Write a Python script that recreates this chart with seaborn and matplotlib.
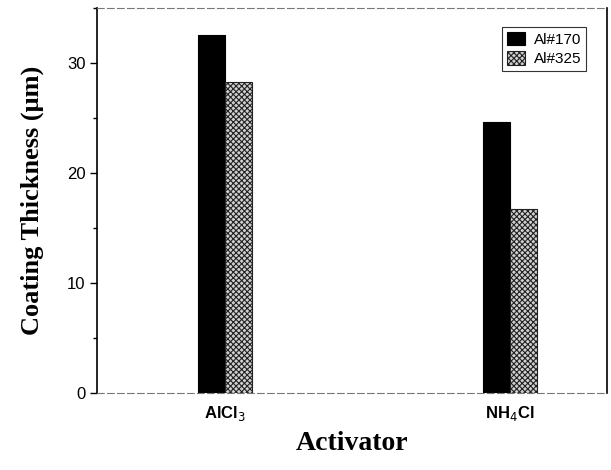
import matplotlib
matplotlib.use("Agg")
import matplotlib.pyplot as plt
import seaborn as sns
import pandas as pd
from matplotlib.ticker import MultipleLocator

activators = ["AlCl$_3$", "NH$_4$Cl"]
series = ["Al#170", "Al#325"]
al170 = [32.5, 24.6]
al325 = [28.3, 16.7]

df = pd.DataFrame({
    "Activator": activators * 2,
    "Series": [series[0]] * 2 + [series[1]] * 2,
    "Thickness": al170 + al325,
})

sns.set_theme(style="white")
plt.rcParams['font.family'] = ['Liberation Sans', 'DejaVu Sans']
plt.rcParams['text.color'] = 'black'
plt.rcParams['axes.labelcolor'] = 'black'
plt.rcParams['xtick.color'] = 'black'
plt.rcParams['ytick.color'] = 'black'
plt.rcParams['hatch.color'] = '#222222'
plt.rcParams['hatch.linewidth'] = 0.8

fig = plt.figure(figsize=(6.11, 4.70), dpi=100)
ax = fig.add_axes([0.159, 0.164, 0.834, 0.819])

sns.barplot(data=df, x="Activator", y="Thickness", hue="Series",
            palette=["black", "white"], width=0.19, ax=ax,
            edgecolor="black", linewidth=0.8, saturation=1, legend=False)

# hatch the second series
for bar in ax.containers[1]:
    bar.set_hatch("xxxxxx")
    bar.set_edgecolor("#222222")
    bar.set_facecolor("#d0d0d0")

ax.set_ylim(0, 35)
ax.set_xlim(-0.449, 1.34)
ax.yaxis.set_major_locator(MultipleLocator(10))
ax.yaxis.set_minor_locator(MultipleLocator(5))
ax.tick_params(axis="y", which="major", direction="out", length=5, width=1,
               left=True, labelsize=12, colors="black")
ax.tick_params(axis="y", which="minor", direction="out", length=3, width=1, left=True)
ax.tick_params(axis="x", length=0, labelsize=12, pad=8, colors="black")
for lab in ax.get_xticklabels():
    lab.set_fontweight("bold")

for side in ["left", "right"]:
    ax.spines[side].set_color("black")
    ax.spines[side].set_linewidth(1.2)
for side in ["top", "bottom"]:
    ax.spines[side].set_color("#777777")
    ax.spines[side].set_linewidth(0.8)
    ax.spines[side].set_linestyle((0, (6, 3)))

ax.set_ylabel("Coating Thickness (μm)", family=["Liberation Serif", "DejaVu Serif"],
              fontsize=19, fontweight="bold", labelpad=16, color="black")
ax.set_xlabel("Activator", family=["Liberation Serif", "DejaVu Serif"],
              fontsize=20, fontweight="bold", labelpad=6, color="black")

handles = [ax.containers[0][0], ax.containers[1][0]]
leg = ax.legend(handles, series, loc="upper right", fontsize=11, frameon=True,
                fancybox=False, edgecolor="black", handlelength=1.2,
                handleheight=1.0, borderpad=0.3, handletextpad=0.6,
                labelspacing=0.3, bbox_to_anchor=(0.975, 0.97))
leg.get_frame().set_linewidth(0.8)

fig.savefig("out.png", dpi=100)
